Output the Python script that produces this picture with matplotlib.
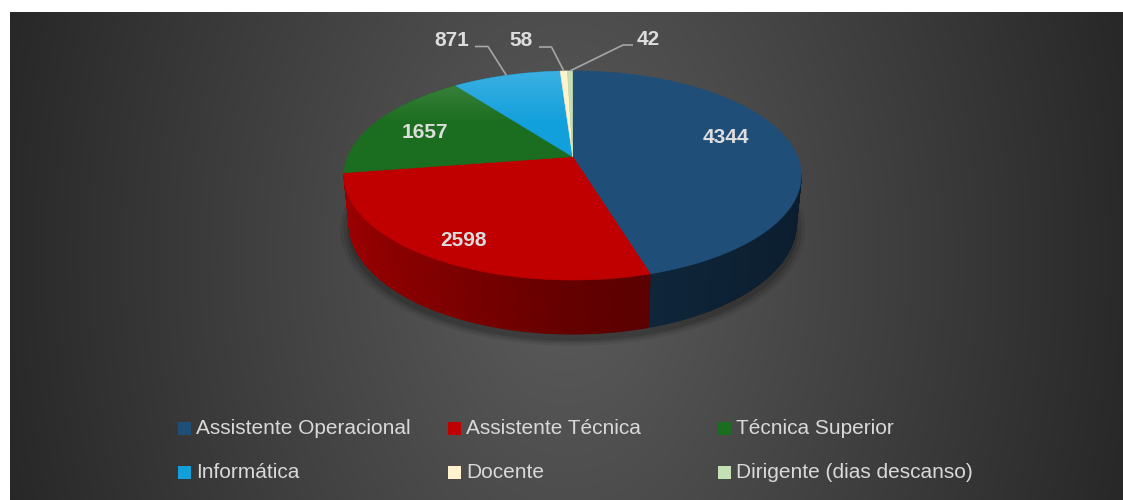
import numpy as np
import matplotlib
matplotlib.use("Agg")
import matplotlib.pyplot as plt
from matplotlib.patches import Polygon, Rectangle

# data
categories = ["Assistente Operacional", "Assistente Técnica", "Técnica Superior",
              "Informática", "Docente", "Dirigente (dias descanso)"]
values = [4344, 2598, 1657, 871, 58, 42]
colors = ["#1F4E79", "#C00000", "#1B6E1F", "#12A0DC", "#FFF2CC", "#C5E0B4"]

plt.rcParams["font.family"] = ["Liberation Sans", "DejaVu Sans"]

W, H = 1123, 500
fig = plt.figure(figsize=(W / 100, H / 100), dpi=100, facecolor="white")
ax = fig.add_axes([0, 0, 1, 1])
ax.set_xlim(0, W)
ax.set_ylim(H, 0)
ax.axis("off")

# radial gradient background of the chart area
x0, x1, y0, y1 = 10, W, 12, H
gx, gy = np.meshgrid(np.linspace(x0, x1, 400), np.linspace(y0, y1, 200))
t = np.sqrt(((gx - 566) / 600) ** 2 + ((gy - 256) / 900) ** 2)
t = np.clip(t, 0, 1)
c = (0x5C + (0x26 - 0x5C) * t) / 255.0
bg = np.dstack([c, c, c])
ax.imshow(bg, extent=(x0, x1, y1, y0), aspect="auto", zorder=0, interpolation="bilinear")

# perspective projection of the pie disc
cx, cy = 572.7, 156.7
f, R = 1120.0, 4.98
s_e, c_e = 0.45, 0.893
h = 0.24


def proj(X, Y, Z):
    depth = R + Y * c_e - Z * s_e
    u = f * X / depth
    v = f * (Y * s_e + Z * c_e) / depth
    return cx + u, cy - v


def shade(col, k):
    rgb = np.array(matplotlib.colors.to_rgb(col))
    return tuple(np.clip(rgb * k, 0, 1))


total = float(sum(values))
bounds = np.concatenate([[0], np.cumsum(values) / total * 2 * np.pi])

# soft shadow under the pie
th = np.linspace(0, 2 * np.pi, 200)
for grow, a in [(1.035, 0.07), (1.02, 0.10), (1.005, 0.14)]:
    sx, sy = proj(np.sin(th) * grow, np.cos(th) * grow - 0.02, -h)
    ax.add_patch(Polygon(np.column_stack([sx, sy + 3]), closed=True,
                         facecolor="black", alpha=a, edgecolor="none", zorder=1))

# side wall (front part), drawn as thin shaded strips
for i, col in enumerate(colors):
    a0, a1 = bounds[i], bounds[i + 1]
    n = max(3, int((a1 - a0) / 0.01))
    ang = np.linspace(a0, a1, n + 1)
    for j in range(n):
        ta, tb = ang[j], ang[j + 1]
        ym = np.cos((ta + tb) / 2)
        if ym > -0.16:
            continue
        xm = np.sin((ta + tb) / 2)
        k = 0.52 - 0.3 * xm if xm < 0 else 0.52 - 0.15 * xm
        px1, py1 = proj(np.sin(ta), np.cos(ta), 0)
        px2, py2 = proj(np.sin(tb), np.cos(tb), 0)
        px3, py3 = proj(np.sin(tb), np.cos(tb), -h)
        px4, py4 = proj(np.sin(ta), np.cos(ta), -h)
        fc = shade(col, k)
        ax.add_patch(Polygon([[px1, py1], [px2, py2], [px3, py3], [px4, py4]], closed=True,
                             facecolor=fc, edgecolor=fc, linewidth=0.6, zorder=2))

# top face
gy_top = np.linspace(0, 1, 100)[:, None]
alpha = np.clip(0.18 * (1 - gy_top / 0.5), 0, None)
sheen = np.dstack([np.ones((100, 2)), np.ones((100, 2)), np.ones((100, 2)),
                   np.repeat(alpha, 2, axis=1)])
for i, col in enumerate(colors):
    a0, a1 = bounds[i], bounds[i + 1]
    ang = np.linspace(a0, a1, max(4, int((a1 - a0) / 0.01)))
    px, py = proj(np.sin(ang), np.cos(ang), 0)
    pts = np.vstack([[cx, cy], np.column_stack([px, py])])
    p = Polygon(pts, closed=True, facecolor=col, edgecolor=col, linewidth=0.4, zorder=3)
    ax.add_patch(p)
    if categories[i] in ("Técnica Superior", "Informática"):
        im = ax.imshow(sheen, extent=(340, 806, 180, 68), aspect="auto", zorder=4,
                       interpolation="bilinear")
        im.set_clip_path(p)

# data labels inside
label_col = "#DDDDDD"
label_shift = [(-11, -8), (-8, 11), (1, 3)]
for i in range(3):
    mid = (bounds[i] + bounds[i + 1]) / 2
    lx, ly = proj(0.75 * np.sin(mid), 0.75 * np.cos(mid), 0)
    ax.text(lx + label_shift[i][0], ly + label_shift[i][1], str(values[i]),
            ha="center", va="center", fontsize=15, fontweight="bold", color=label_col, zorder=6)

# outside labels with leader lines
outside = [(3, (452, 40), [(475, 46.5), (488, 46.5)]),
           (4, (521.5, 40), [(539, 47), (551.5, 47)]),
           (5, (648, 39.5), [(633, 45), (623, 45)])]
for i, (tx0, ty0), elbow in outside:
    mid = (bounds[i] + bounds[i + 1]) / 2
    axp, ayp = proj(np.sin(mid), np.cos(mid), 0)
    xs = [elbow[0][0], elbow[1][0], axp]
    ys = [elbow[0][1], elbow[1][1], ayp]
    ax.plot(xs, ys, color="#A6A6A6", linewidth=1.2, zorder=5, solid_capstyle="butt")
    ax.text(tx0, ty0, str(values[i]), ha="center", va="center", fontsize=15,
            fontweight="bold", color=label_col, zorder=6)

# legend, 2 rows x 3 equal-width columns
for i, (name, col) in enumerate(zip(categories, colors)):
    row, colm = divmod(i, 3)
    lx = 177.5 + colm * 270
    ly = 428.3 + row * 44.4
    ax.add_patch(Rectangle((lx, ly - 6.6), 13, 13.2, facecolor=col, edgecolor="none", zorder=6))
    ax.text(lx + 19, ly, name, ha="left", va="center", fontsize=15, color="#D9D9D9", zorder=6)

fig.savefig("out.png", dpi=100, facecolor="white")
